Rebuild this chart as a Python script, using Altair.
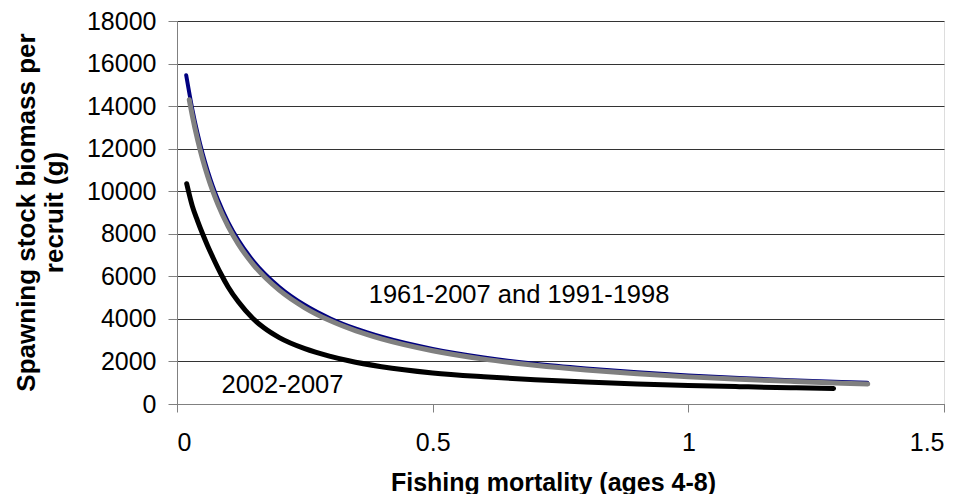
import altair as alt
import pandas as pd

# Fishing mortality (x) and SSB per recruit (y) for each series
F_blue = [0.018, 0.03, 0.04, 0.05, 0.06, 0.07, 0.08, 0.1, 0.12, 0.15, 0.2, 0.25,
          0.3, 0.35, 0.4, 0.5, 0.6, 0.7, 0.8, 0.9, 1.0, 1.1, 1.2, 1.3, 1.35]
SSB_blue = [15450, 13850, 12740, 11780, 10960, 10240, 9610, 8550, 7700, 6700, 5500, 4650,
            4020, 3540, 3160, 2590, 2190, 1890, 1670, 1490, 1340, 1220, 1120, 1035, 995]

F_gray = [0.024, 0.03, 0.04, 0.05, 0.06, 0.07, 0.08, 0.1, 0.12, 0.15, 0.2, 0.25,
          0.3, 0.35, 0.4, 0.5, 0.6, 0.7, 0.8, 0.9, 1.0, 1.1, 1.2, 1.3, 1.351]
SSB_gray = [14300, 13545, 12446, 11510, 10703, 10000, 9382, 8347, 7513, 6529, 5349, 4521,
            3908, 3436, 3061, 2504, 2109, 1825, 1600, 1420, 1275, 1160, 1065, 980, 942]

F_black = [0.019, 0.03, 0.04, 0.05, 0.06, 0.07, 0.086, 0.1, 0.12, 0.148, 0.17, 0.2, 0.25,
           0.3, 0.336, 0.4, 0.5, 0.6, 0.7, 0.8, 0.9, 1.0, 1.1, 1.2, 1.284]
SSB_black = [10350, 9300, 8620, 8000, 7430, 6900, 6110, 5500, 4800, 4030, 3580, 3120, 2600,
             2240, 2030, 1750, 1460, 1280, 1140, 1030, 945, 875, 815, 765, 733]

x_ticks = [0, 0.5, 1, 1.5]
y_ticks = [0, 2000, 4000, 6000, 8000, 10000, 12000, 14000, 16000, 18000]

label_text = ["1961-2007 and 1991-1998", "2002-2007"]
label_F = [0.375, 0.087]
label_SSB = [4770, 540]

FONT = "Liberation Sans"

df_blue = pd.DataFrame({"F": F_blue, "SSB": SSB_blue})
df_gray = pd.DataFrame({"F": F_gray, "SSB": SSB_gray})
df_black = pd.DataFrame({"F": F_black, "SSB": SSB_black})
df_lab = pd.DataFrame({"F": label_F, "SSB": label_SSB, "t": label_text})

xscale = alt.Scale(domain=[0, 1.5], nice=False, zero=False)
yscale = alt.Scale(domain=[0, 18000], nice=False)

xax = alt.Axis(values=x_ticks, format="~g", grid=False, tickSize=8, tickColor="#808080",
               domainColor="#808080", labelFontSize=25, labelFont=FONT, labelColor="black",
               labelPadding=18, title="Fishing mortality (ages 4-8)", titleFont=FONT,
               titleFontSize=25, titleFontWeight="bold", titleColor="black",
               titleBaseline="alphabetic", titleY=86, titleX=376, titleAlign="center")
yax = alt.Axis(values=y_ticks, format="d", grid=True, gridColor="#333333", gridWidth=1,
               tickSize=9, tickColor="#808080", domainColor="#808080", labelFontSize=25,
               labelFont=FONT, labelColor="black", labelPadding=12,
               title=["Spawning stock biomass per", "recruit (g)"], titleFont=FONT,
               titleFontSize=26, titleFontWeight="bold", titleColor="black",
               titleAngle=270, titleAlign="center", titleBaseline="middle",
               titleLineHeight=28, titleX=-151, titleY=191)

base_x = alt.X("F:Q", scale=xscale, axis=xax)
base_y = alt.Y("SSB:Q", scale=yscale, axis=yax)

blue = alt.Chart(df_blue).mark_line(color="#000080", strokeWidth=4, strokeCap="round",
                                    interpolate="monotone").encode(x=base_x, y=base_y)
gray = alt.Chart(df_gray).mark_line(color="#808080", strokeWidth=5, strokeCap="round",
                                    interpolate="monotone").encode(x="F:Q", y="SSB:Q")
black = alt.Chart(df_black).mark_line(color="black", strokeWidth=5, strokeCap="round",
                                      interpolate="monotone").encode(x="F:Q", y="SSB:Q")
labels = alt.Chart(df_lab).mark_text(font=FONT, fontSize=25.5, align="left",
                                     baseline="alphabetic", color="black").encode(
    x="F:Q", y="SSB:Q", text="t:N")

chart = alt.layer(blue, gray, black, labels).properties(
    width=767, height=383,
    autosize=alt.AutoSizeParams(type="none"),
    padding={"left": 169, "top": 13, "right": 15, "bottom": 90},
).configure_view(stroke=None).configure(background="white")

chart.save("out.html", embed_options={"renderer": "svg", "actions": False})
